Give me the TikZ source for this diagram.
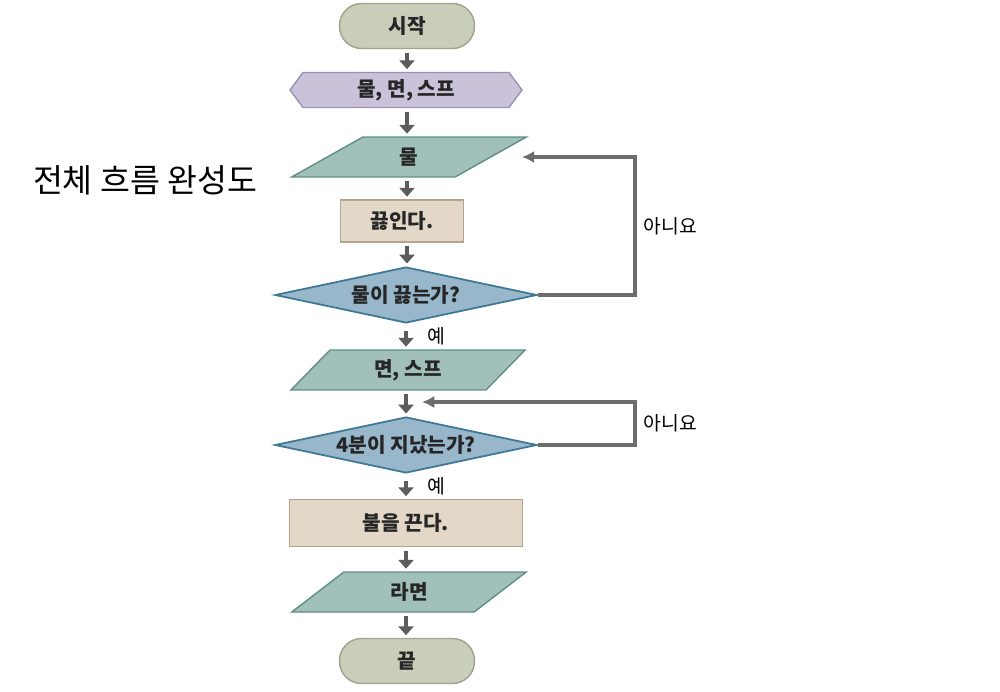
\documentclass[tikz,border=0pt]{standalone}
\usepackage{fontspec}
\newfontfamily\kr{Noto Sans CJK KR}
\usetikzlibrary{shapes.geometric,shapes.symbols,arrows.meta}
\definecolor{termfill}{HTML}{C9CEBB}
\definecolor{termline}{HTML}{9EA48C}
\definecolor{prepfill}{HTML}{CAC2D9}
\definecolor{prepline}{HTML}{9C91B3}
\definecolor{iofill}{HTML}{A2C0BA}
\definecolor{ioline}{HTML}{5E8F86}
\definecolor{procfill}{HTML}{E3D8C8}
\definecolor{procline}{HTML}{B5A58E}
\definecolor{askfill}{HTML}{98B7CA}
\definecolor{askline}{HTML}{3F7896}
\definecolor{arrowgray}{HTML}{5C5C5C}
\definecolor{loopgray}{HTML}{6D6D6D}

\begin{document}
\begin{tikzpicture}[x=0.02cm,y=-0.02cm]
  \tikzset{box/.style={draw,line width=0.8pt,inner sep=0pt,text=black!85,
      font=\kr\bfseries\fontsize{11.5}{12}\selectfont},
    terminal/.style={box,rectangle,rounded corners=0.44cm,fill=termfill,draw=termline,
      minimum width=2.7cm,minimum height=0.9cm},
    prep/.style={box,signal,signal to=west and east,signal pointer angle=107,
      fill=prepfill,draw=prepline,minimum width=4.64cm,minimum height=0.7cm},
    io/.style={box,trapezium,trapezium left angle=52,trapezium right angle=128,
      trapezium stretches=true,fill=iofill,draw=ioline,minimum width=4.7cm,minimum height=0.8cm},
    proc/.style={box,rectangle,fill=procfill,draw=procline},
    ask/.style={box,diamond,aspect=4.68,fill=askfill,draw=askline,line width=1pt,
      minimum width=5.24cm,minimum height=1.12cm},
    flow/.style={draw=arrowgray,line width=2.2pt,-{Triangle[width=8.5pt,length=5pt]},
      shorten <=2pt,shorten >=1.5pt},
    back/.style={draw=loopgray,line width=2pt,-{Latex[width=7pt,length=7pt]}},
    answer/.style={inner sep=0pt,text=black,font=\kr\fontsize{11}{12}\selectfont}}
  \useasboundingbox (0,0) rectangle (1000,692);

  \node[terminal] (start) at (407,26) {시작};
  \node[prep] (prep) at (406,90) {물, 면, 스프};
  \node[io] (water) at (409,157) {물};
  \node[proc,minimum width=2.46cm,minimum height=0.84cm] (boil) at (402,221) {끓인다.};
  \node[ask] (boiled) at (406,295) {물이 끓는가?};
  \node[io] (noodle) at (408,370) {면, 스프};
  \node[ask] (time) at (406,445) {4분이 지났는가?};
  \node[proc,minimum width=4.66cm,minimum height=0.94cm] (off) at (406,523) {불을 끈다.};
  \node[io] (ramen) at (409,592) {라면};
  \node[terminal] (stop) at (407,661) {끝};
  \node[text=black,font=\kr\fontsize{18.5}{20}\selectfont] (title) at (145,180) {전체 흐름 완성도};
  \coordinate (join) at (422,402);

  \draw[flow] (start.south) -- (start.south |- prep.north);
  \draw[flow] (start.south |- prep.south) -- (start.south |- water.north);
  \draw[flow] (start.south |- water.south) -- (start.south |- boil.north);
  \draw[flow] (start.south |- boil.south) -- (start.south |- boiled.north);
  \draw[flow,shorten <=4pt] (boiled.south) -- node[answer,right=11pt] {예} (boiled.south |- noodle.north);
  \draw[flow] (boiled.south |- noodle.south) -- (time.north);
  \draw[flow,shorten <=4pt] (time.south) -- node[answer,right=11pt] {예} (time.south |- off.north);
  \draw[flow] (time.south |- off.south) -- (time.south |- ramen.north);
  \draw[flow] (time.south |- ramen.south) -- (time.south |- stop.north);

  \draw[back] (boiled.east) -- (635,295) |- node[answer,pos=0.25,right=4pt] {아니요}
    ([xshift=-4pt]water.top right corner |- water.east);
  \draw[back] (time.east) -- (635,445) |- node[answer,pos=0.25,right=4pt] {아니요} (join);
\end{tikzpicture}
\end{document}
